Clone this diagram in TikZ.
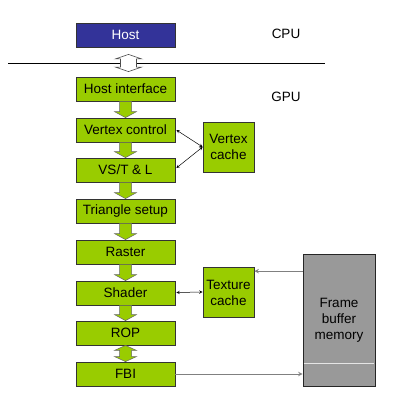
\documentclass[tikz,border=0pt]{standalone}
\usepackage{fontspec}
\setmainfont{Liberation Sans}
\usetikzlibrary{calc}
\definecolor{hostblue}{HTML}{333399}
\definecolor{gpugreen}{HTML}{99CC00}
\definecolor{fbgray}{HTML}{999999}
\begin{document}
\begin{tikzpicture}[x=1pt,y=-1pt,
  box/.style={draw=black!80,line width=0.8pt,minimum width=99pt,minimum height=24pt,inner sep=0pt,font=\fontsize{13.5}{15}\selectfont},
  stage/.style={box,fill=gpugreen},
  cachebox/.style={draw=black!80,line width=0.8pt,fill=gpugreen,minimum width=51pt,minimum height=50pt,inner sep=0pt,align=center,font=\fontsize{13.5}{16}\selectfont},
  blockarr/.style={draw=black!60,line width=0.5pt,fill=gpugreen},
  thin/.style={line width=0.5pt,>=stealth,black},
  grayln/.style={line width=1pt,draw=black!50,>=stealth},
  lbl/.style={font=\fontsize{13.5}{15}\selectfont}
]
\useasboundingbox (0,0) rectangle (404,402);
% nodes
\node[box,fill=hostblue,text=white] (host) at (125.5,35) {Host};
\node[lbl] (cpu) at (286,34) {CPU};
\node[lbl] (gpu) at (286,97) {GPU};
\node[stage] (hi) at (125.5,89) {Host interface};
\node[stage] (vc) at (125.5,130) {Vertex control};
\node[stage] (vs) at (125.5,170) {VS/T \& L};
\node[stage] (ts) at (125.5,211) {Triangle setup};
\node[stage] (ra) at (125.5,252) {Raster};
\node[stage] (sh) at (125.5,293) {Shader};
\node[stage] (rop) at (125.5,333) {ROP};
\node[stage] (fbi) at (125.5,374) {FBI};
\node[cachebox] (vcache) at (228.5,147) {Vertex\\cache};
\node[cachebox] (tcache) at (228.5,292.5) {Texture\\cache};
\node[draw=black!85,line width=0.8pt,fill=fbgray,minimum width=72pt,minimum height=132pt,inner sep=0pt,align=center,font=\fontsize{13.5}{16}\selectfont] (fb) at (339,320) {Frame\\buffer\\memory};
\draw[white!75!fbgray,line width=0.8pt] ($(fb.south west)+(1,-23)$) -- ($(fb.south east)+(-1,-23)$);
% bus line
\coordinate (busL) at (8,63);
\coordinate (busR) at (325,63);
\draw[line width=1pt] (busL) -- (busR);
% bus double arrow (canvas offsets: negative = down)
\draw[draw=black!70,line width=0.6pt,fill=white]
  let \p1=(host.south), \p2=(hi.north) in
  (\x1+3pt,\y1-7pt) -- (\x1+16pt,\y1-11.5pt) -- (\x1+11pt,\y1-11.5pt) -- (\x1+11pt,\y2+9.5pt) -- (\x1+16pt,\y2+9.5pt)
  -- (\x1+3pt,\y2+5pt) -- (\x1-10pt,\y2+9.5pt) -- (\x1-5pt,\y2+9.5pt) -- (\x1-5pt,\y1-11.5pt) -- (\x1-10pt,\y1-11.5pt) -- cycle;
% block down arrows
\newcommand\blkdown[2]{%
  \draw[blockarr] let \p1=(#1.south), \p2=(#2.north) in
   (\x1-6pt,\y1) -- (\x1+6pt,\y1) -- (\x1+6pt,\y2+6pt) -- (\x1+11pt,\y2+6pt) -- (\x1,\y2)
   -- (\x1-11pt,\y2+6pt) -- (\x1-6pt,\y2+6pt) -- cycle;}
\blkdown{hi}{vc}
\blkdown{vc}{vs}
\blkdown{vs}{ts}
\blkdown{ts}{ra}
\blkdown{ra}{sh}
\blkdown{sh}{rop}
% double arrow ROP-FBI
\draw[blockarr] let \p1=(rop.south), \p2=(fbi.north) in
   (\x1,\y1) -- (\x1+11pt,\y1-5pt) -- (\x1+6pt,\y1-5pt) -- (\x1+6pt,\y2+5pt) -- (\x1+11pt,\y2+5pt) -- (\x1,\y2)
   -- (\x1-11pt,\y2+5pt) -- (\x1-6pt,\y2+5pt) -- (\x1-6pt,\y1-5pt) -- (\x1-11pt,\y1-5pt) -- cycle;
% connectors
\draw[thin,<->] ($(vc.east)+(1,0)$) -- (vcache.west);
\draw[thin,<->] ($(vs.east)+(1,-2)$) -- (vcache.west);
\draw[thin,<->] ($(sh.east)+(1,-0.5)$) -- ($(tcache.west)+(0,-0.5)$);
\draw[grayln,->] (fb.west |- {$(tcache.north)+(0,4)$}) -- ($(tcache.north east)+(0,4)$);
\draw[grayln,->] (fbi.east) -- (fbi.east -| fb.west);
\end{tikzpicture}
\end{document}
